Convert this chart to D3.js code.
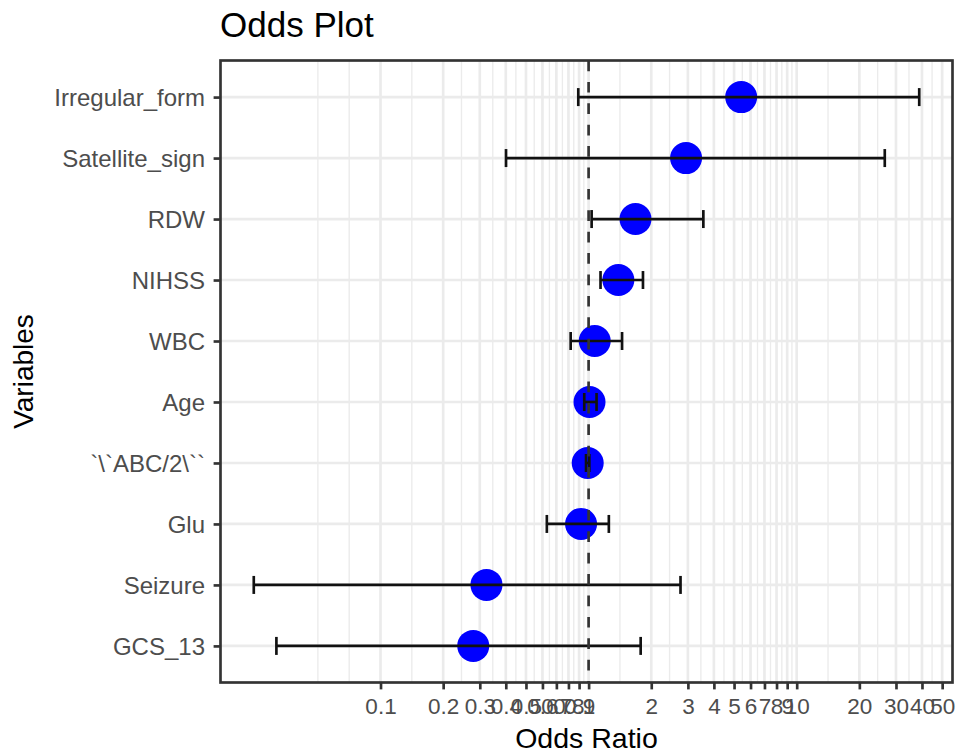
<!DOCTYPE html>
<html>
<head>
<meta charset="utf-8">
<script src="https://cdn.jsdelivr.net/npm/d3@7"></script>
<style>
  html, body { margin: 0; padding: 0; background: #ffffff; }
  svg { display: block; font-family: "Liberation Sans", Arial, Helvetica, sans-serif; }
</style>
</head>
<body>
<svg id="chart" width="959" height="753"></svg>
<script>
// Variables, top to bottom
const variables = ["Irregular_form", "Satellite_sign", "RDW", "NIHSS", "WBC", "Age",
                   "`\\`ABC/2\\``", "Glu", "Seizure", "GCS_13"];
// Odds ratios with 95% confidence limits
const oddsRatio = [5.41, 2.94, 1.68, 1.39, 1.07, 1.01, 0.99, 0.92, 0.323, 0.279];
const ciLower   = [0.892, 0.401, 1.034, 1.141, 0.820, 0.953, 0.972, 0.630, 0.0246, 0.0316];
const ciUpper   = [38.8, 26.5, 3.56, 1.825, 1.448, 1.092, 1.008, 1.251, 2.765, 1.779];
// x axis breaks and their labels
const xBreaks = [0.1, 0.2, 0.3, 0.4, 0.5, 0.6, 0.7, 0.8, 0.9, 1, 2, 3, 4, 5, 6, 7, 8, 9, 10, 20, 30, 40, 50];
const xLabels = ["0.1", "0.2", "0.3", "0.4", "0.5", "0.6", "0.7", "0.8", "0.9", "1", "2", "3", "4", "5", "6", "7", "8", "9", "10", "20", "30", "40", "50"];

const rows = variables.map((v, i) => ({ name: v, or: oddsRatio[i], lo: ciLower[i], hi: ciUpper[i] }));

const panel = { left: 220.5, right: 952.5, top: 60.5, bottom: 682.5 };
const lw = 2.67;           // standard line width
const grey20 = "#333333", grey30 = "#4D4D4D", grey92 = "#EBEBEB";

const svg = d3.select("#chart");
svg.append("rect").attr("width", 959).attr("height", 753).attr("fill", "#ffffff");

// log x scale with 5% expansion of the data range in log space
const lmin = Math.log10(d3.min(ciLower)), lmax = Math.log10(d3.max(ciUpper));
const ex = (lmax - lmin) * 0.05;
const x = d3.scaleLog()
  .domain([Math.pow(10, lmin - ex), Math.pow(10, lmax + ex)])
  .range([panel.left, panel.right]);
const y = d3.scalePoint().domain(variables).range([panel.top, panel.bottom]).padding(0.6);

// minor breaks: midpoints in log space, with one extra break each side
const lb = xBreaks.map(Math.log10);
const bd = lb[1] - lb[0];
const ext = [lb[0] - bd, ...lb, lb[lb.length - 1] + bd];
const minor = [];
for (let i = 0; i < ext.length - 1; i++) { minor.push(ext[i], (ext[i] + ext[i + 1]) / 2); }
minor.push(ext[ext.length - 1]);
const [dlo, dhi] = x.domain().map(Math.log10);
const minorVals = minor.filter(v => v >= dlo && v <= dhi).map(v => Math.pow(10, v));

const grid = svg.append("g");
grid.selectAll("line.minor").data(minorVals).join("line")
  .attr("x1", d => x(d)).attr("x2", d => x(d))
  .attr("y1", panel.top).attr("y2", panel.bottom)
  .attr("stroke", grey92).attr("stroke-width", lw / 2);
grid.selectAll("line.majx").data(xBreaks).join("line")
  .attr("x1", d => x(d)).attr("x2", d => x(d))
  .attr("y1", panel.top).attr("y2", panel.bottom)
  .attr("stroke", grey92).attr("stroke-width", lw);
grid.selectAll("line.majy").data(variables).join("line")
  .attr("x1", panel.left).attr("x2", panel.right)
  .attr("y1", d => y(d)).attr("y2", d => y(d))
  .attr("stroke", grey92).attr("stroke-width", lw);

// points
svg.append("g").selectAll("circle").data(rows).join("circle")
  .attr("cx", d => x(d.or)).attr("cy", d => y(d.name)).attr("r", 16)
  .attr("fill", "#0000FF");

// horizontal error bars
const capH = 9;
const eb = svg.append("g").attr("stroke", "#111111").attr("stroke-width", lw).attr("fill", "none");
eb.selectAll("line.bar").data(rows).join("line")
  .attr("x1", d => x(d.lo)).attr("x2", d => x(d.hi))
  .attr("y1", d => y(d.name)).attr("y2", d => y(d.name));
eb.selectAll("line.lc").data(rows).join("line")
  .attr("x1", d => x(d.lo)).attr("x2", d => x(d.lo))
  .attr("y1", d => y(d.name) - capH).attr("y2", d => y(d.name) + capH);
eb.selectAll("line.uc").data(rows).join("line")
  .attr("x1", d => x(d.hi)).attr("x2", d => x(d.hi))
  .attr("y1", d => y(d.name) - capH).attr("y2", d => y(d.name) + capH);

// reference line at OR = 1
svg.append("line")
  .attr("x1", x(1)).attr("x2", x(1))
  .attr("y1", panel.top).attr("y2", panel.bottom)
  .attr("stroke", "#333333").attr("stroke-width", lw)
  .attr("stroke-dasharray", "10.7,10.7");

// panel border
svg.append("rect")
  .attr("x", panel.left).attr("y", panel.top)
  .attr("width", panel.right - panel.left).attr("height", panel.bottom - panel.top)
  .attr("fill", "none").attr("stroke", grey20).attr("stroke-width", lw);

// axes
const tickLen = 6.9;
const xAxis = svg.append("g").attr("transform", `translate(0,${panel.bottom})`)
  .call(d3.axisBottom(x).tickValues(xBreaks).tickFormat((d, i) => xLabels[i])
    .tickSize(tickLen).tickPadding(0));
xAxis.select(".domain").remove();
xAxis.selectAll(".tick line").attr("stroke", grey20).attr("stroke-width", lw);
xAxis.selectAll(".tick text").attr("fill", grey30).attr("font-size", 22.5)
  .attr("y", 31.5).attr("dy", null).attr("font-family", "Liberation Sans, Arial, sans-serif");

const yAxis = svg.append("g").attr("transform", `translate(${panel.left},0)`)
  .call(d3.axisLeft(y).tickSize(tickLen).tickPadding(0));
yAxis.select(".domain").remove();
yAxis.selectAll(".tick line").attr("stroke", grey20).attr("stroke-width", lw);
yAxis.selectAll(".tick text").attr("fill", grey30).attr("font-size", 24)
  .attr("x", -15.5).attr("dy", "0.35em").attr("font-family", "Liberation Sans, Arial, sans-serif");

// titles
svg.append("text").attr("x", 220).attr("y", 37)
  .attr("font-size", 35).attr("fill", "#000").text("Odds Plot");
svg.append("text").attr("x", (panel.left + panel.right) / 2).attr("y", 748)
  .attr("text-anchor", "middle").attr("font-size", 28.5).attr("fill", "#000").text("Odds Ratio");
svg.append("text").attr("transform", `translate(33,${(panel.top + panel.bottom) / 2}) rotate(-90)`)
  .attr("text-anchor", "middle").attr("font-size", 28).attr("fill", "#000").text("Variables");
</script>
</body>
</html>
